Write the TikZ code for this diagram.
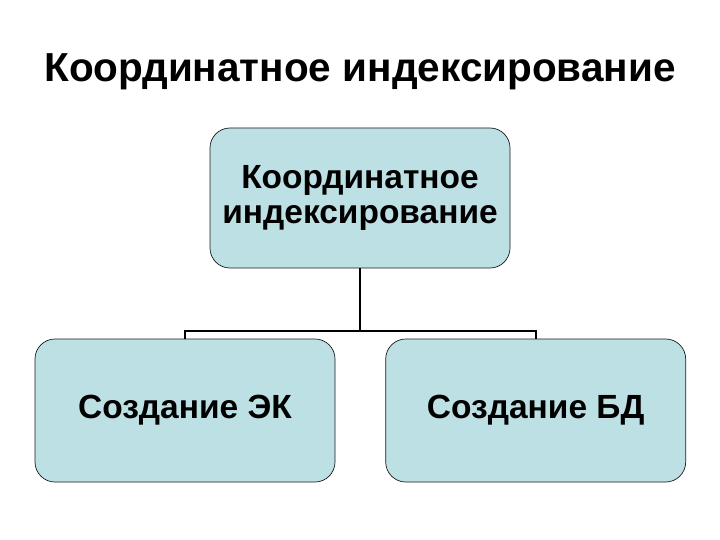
\documentclass[tikz,border=0pt]{standalone}
\usepackage{fontspec}
\setmainfont{Liberation Sans}
\usepackage{xcolor}
\usepackage{tikz}
\usetikzlibrary{positioning}
\definecolor{boxfill}{HTML}{BDE0E4}
\definecolor{boxline}{HTML}{1A1A1A}
\tikzset{
  heading/.style={font=\fontsize{40.5}{46}\selectfont\bfseries, text=black},
  topbox/.style={
    rectangle, rounded corners=20pt, draw=boxline, line width=0.7pt,
    fill=boxfill, minimum width=300pt, minimum height=140pt,
    align=center, font=\fontsize{33.5}{35}\selectfont\bfseries
  },
  childbox/.style={
    rectangle, rounded corners=20pt, draw=boxline, line width=0.7pt,
    fill=boxfill, minimum width=300pt, minimum height=143pt,
    align=center, font=\fontsize{33.5}{35}\selectfont\bfseries
  },
  branch/.style={line width=1.6pt, color=black},
}

\begin{document}
\begin{tikzpicture}[x=1pt, y=1pt]

  \useasboundingbox (0,0) rectangle (720,-540);

  \node[heading] (title) at (360,-72) {Координатное индексирование};
  \node[topbox] (root) at (360,-198) {Координатное\\индексирование};
  \node[childbox] (ek) at (185,-410.5) {Создание ЭК};
  \node[childbox, right=50pt of ek] (bd) {Создание БД};

  \coordinate (bus) at (360,-331);
  \draw[branch] (root.south) -- (bus);
  \draw[branch] (ek.north) |- (bus) -| (bd.north);

\end{tikzpicture}
\end{document}
